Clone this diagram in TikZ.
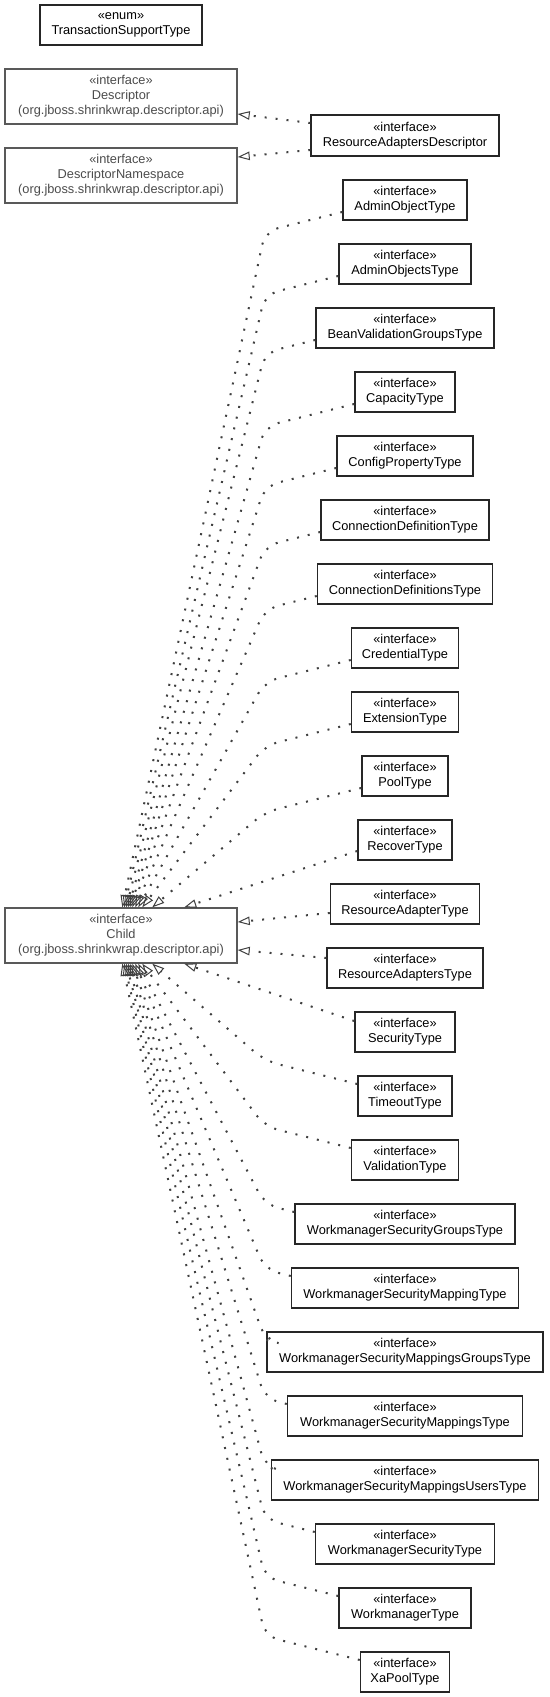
\documentclass[tikz,border=0pt]{standalone}
\usepackage{fontspec}
\setmainfont{Liberation Sans}
\usetikzlibrary{arrows.meta,calc}
\newcommand{\umlfont}{\fontsize{12.8}{15}\selectfont}

\begin{document}
\begin{tikzpicture}[x=1pt,y=1pt,
  umlbox/.style={draw=black!85,line width=1.4pt,fill=white,align=center,inner sep=0pt,
    minimum height=40pt,font=\umlfont},
  extbox/.style={umlbox,draw=black!65,text=black!70,minimum width=232pt,minimum height=55pt},
  realize/.style={draw=black!75,line width=2pt,dash pattern=on 2pt off 9pt,
    rounded corners=14pt,-{Triangle[open,length=12pt,width=8.5pt,line width=1pt]}}]
  \useasboundingbox (0,0) rectangle (549,-1697);

  \node[umlbox,minimum width=162pt] (txsupport) at (121,-25) {«enum»\\TransactionSupportType};
  \node[extbox] (descriptor) at (121,-96.5) {«interface»\\Descriptor\\(org.jboss.shrinkwrap.descriptor.api)};
  \node[extbox] (namespace) at (121,-175.5) {«interface»\\DescriptorNamespace\\(org.jboss.shrinkwrap.descriptor.api)};
  \node[extbox] (child) at (121,-935.5) {«interface»\\Child\\(org.jboss.shrinkwrap.descriptor.api)};
  \node[umlbox,minimum width=188pt,minimum height=41pt] (radescriptor) at (405,-135.5) {«interface»\\ResourceAdaptersDescriptor};

  \foreach \b/\t/\w [count=\i from 0] in {
      adminobject/AdminObjectType/124, adminobjects/AdminObjectsType/132,
      beanvalidationgroups/BeanValidationGroupsType/178, capacity/CapacityType/100,
      configproperty/ConfigPropertyType/136, connectiondefinition/ConnectionDefinitionType/168,
      connectiondefinitions/ConnectionDefinitionsType/175, credential/CredentialType/107,
      extension/ExtensionType/107, pool/PoolType/86, recover/RecoverType/94,
      resourceadapter/ResourceAdapterType/149, resourceadapters/ResourceAdaptersType/156,
      security/SecurityType/100, timeout/TimeoutType/94, validation/ValidationType/107,
      wmsecuritygroups/WorkmanagerSecurityGroupsType/220,
      wmsecuritymapping/WorkmanagerSecurityMappingType/227,
      wmsecuritymappingsgroups/WorkmanagerSecurityMappingsGroupsType/276,
      wmsecuritymappings/WorkmanagerSecurityMappingsType/235,
      wmsecuritymappingsusers/WorkmanagerSecurityMappingsUsersType/267,
      wmsecurity/WorkmanagerSecurityType/179, workmanager/WorkmanagerType/132,
      xapool/XaPoolType/89}
    \node[umlbox,minimum width=\w pt] (\b) at (405,{-200-64*\i}) {«interface»\\\t};

  \draw[realize] ($(radescriptor.west)+(0,12.5)$) -- ($(descriptor.east)+(0,-17.5)$);
  \draw[realize] ($(radescriptor.west)+(0,-14.5)$) -- ($(namespace.east)+(0,18.5)$);

  % above the child box
  \foreach \b/\a in {adminobject/123, adminobjects/125, beanvalidationgroups/127, capacity/129,
      configproperty/131, connectiondefinition/133, connectiondefinitions/136,
      credential/139, extension/143, pool/153}
    \draw[realize] let \p1=($(\b.west)+(0,-12)$) in
      (\p1) -- (265,{\y1-0.25*(\x1-265)}) -- ($(child.north west)+({\a-5},0)$);
  \draw[realize] ($(recover.west)+(0,-11)$) -- ($(child.north west)+(180,0)$);

  \draw[realize] ($(resourceadapter.west)+(0,-9)$) -- ($(child.east)+(0,13.5)$);
  \draw[realize] ($(resourceadapters.west)+(0,10)$) -- ($(child.east)+(0,-14.5)$);

  % below the child box
  \draw[realize] ($(security.west)+(0,11)$) -- ($(child.south west)+(180,0)$);
  \foreach \b/\a in {timeout/153, validation/143, wmsecuritygroups/139, wmsecuritymapping/136,
      wmsecuritymappingsgroups/133, wmsecuritymappings/131, wmsecuritymappingsusers/129,
      wmsecurity/127, workmanager/125, xapool/123}
    \draw[realize] let \p1=($(\b.west)+(0,12)$) in
      (\p1) -- (265,{\y1+0.25*(\x1-265)}) -- ($(child.south west)+({\a-5},0)$);
\end{tikzpicture}
\end{document}
